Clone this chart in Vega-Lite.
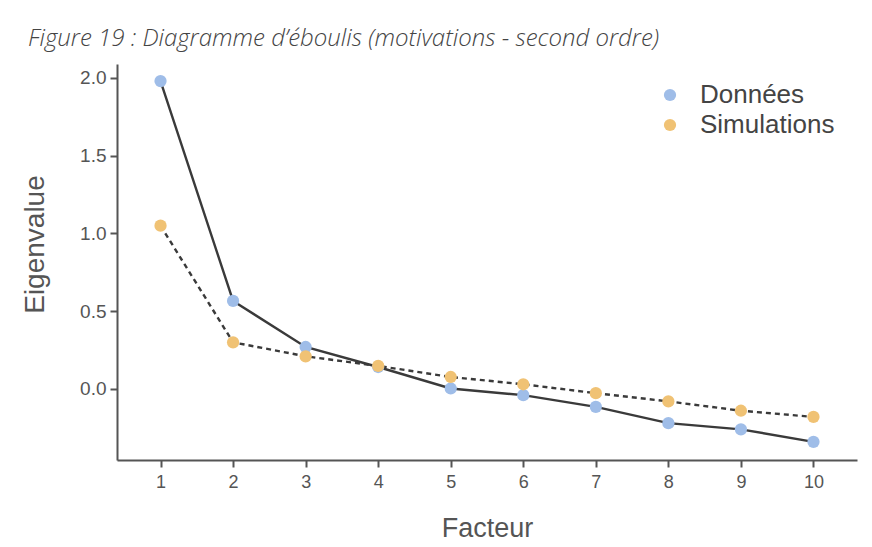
{
  "$schema": "https://vega.github.io/schema/vega-lite/v6.json",
  "autosize": {"type": "none"},
  "width": 740,
  "height": 396,
  "padding": {"left": 117, "top": 64, "right": 15, "bottom": 87},
  "background": "white",
  "title": {
    "text": "Figure 19 : Diagramme d’éboulis (motivations - second ordre)",
    "anchor": "start",
    "frame": "group",
    "font": "Open Sans",
    "fontStyle": "italic",
    "fontWeight": 300,
    "fontSize": 24,
    "color": "#444444",
    "dx": -89,
    "offset": 13
  },
  "data": {
    "values": [
      {"Facteur": 1, "Eigenvalue": 1.98, "Série": "Données"},
      {"Facteur": 2, "Eigenvalue": 0.566, "Série": "Données"},
      {"Facteur": 3, "Eigenvalue": 0.27, "Série": "Données"},
      {"Facteur": 4, "Eigenvalue": 0.141, "Série": "Données"},
      {"Facteur": 5, "Eigenvalue": 0.003, "Série": "Données"},
      {"Facteur": 6, "Eigenvalue": -0.04, "Série": "Données"},
      {"Facteur": 7, "Eigenvalue": -0.115, "Série": "Données"},
      {"Facteur": 8, "Eigenvalue": -0.22, "Série": "Données"},
      {"Facteur": 9, "Eigenvalue": -0.26, "Série": "Données"},
      {"Facteur": 10, "Eigenvalue": -0.34, "Série": "Données"},
      {"Facteur": 1, "Eigenvalue": 1.05, "Série": "Simulations"},
      {"Facteur": 2, "Eigenvalue": 0.30, "Série": "Simulations"},
      {"Facteur": 3, "Eigenvalue": 0.21, "Série": "Simulations"},
      {"Facteur": 4, "Eigenvalue": 0.148, "Série": "Simulations"},
      {"Facteur": 5, "Eigenvalue": 0.077, "Série": "Simulations"},
      {"Facteur": 6, "Eigenvalue": 0.03, "Série": "Simulations"},
      {"Facteur": 7, "Eigenvalue": -0.027, "Série": "Simulations"},
      {"Facteur": 8, "Eigenvalue": -0.08, "Série": "Simulations"},
      {"Facteur": 9, "Eigenvalue": -0.14, "Série": "Simulations"},
      {"Facteur": 10, "Eigenvalue": -0.18, "Série": "Simulations"}
    ]
  },
  "encoding": {
    "x": {
      "field": "Facteur",
      "type": "quantitative",
      "scale": {"domain": [0.4, 10.6], "nice": false, "zero": false},
      "axis": {
        "values": [1, 2, 3, 4, 5, 6, 7, 8, 9, 10],
        "grid": false,
        "title": "Facteur",
        "titleFontSize": 27,
        "titlePadding": 24,
        "labelFontSize": 18,
        "labelPadding": 6
      }
    },
    "y": {
      "field": "Eigenvalue",
      "type": "quantitative",
      "scale": {"domain": [-0.457, 2.09], "nice": false, "zero": false},
      "axis": {
        "values": [0, 0.5, 1, 1.5, 2],
        "format": ".1f",
        "grid": false,
        "title": "Eigenvalue",
        "titleFontSize": 28,
        "titleX": -68,
        "titleY": 180,
        "labelFontSize": 19,
        "labelPadding": 4
      }
    }
  },
  "layer": [
    {
      "transform": [{"filter": "datum['Série'] === 'Données'"}],
      "mark": {"type": "line", "color": "#3a3a3a", "strokeWidth": 2.4},
      "encoding": {}
    },
    {
      "transform": [{"filter": "datum['Série'] === 'Simulations'"}],
      "mark": {"type": "line", "color": "#3a3a3a", "strokeWidth": 2.4, "strokeDash": [5, 4]},
      "encoding": {}
    },
    {
      "mark": {"type": "point", "filled": true, "opacity": 1, "size": 150},
      "encoding": {
        "color": {
          "field": "Série",
          "type": "nominal",
          "scale": {"domain": ["Données", "Simulations"], "range": ["#9fbde8", "#f0c274"]},
          "legend": {
            "title": null,
            "orient": "none",
            "legendX": 540,
            "legendY": 18,
            "symbolType": "circle",
            "symbolSize": 150,
            "symbolOpacity": 1,
            "labelFontSize": 26,
            "labelColor": "#444444",
            "labelOffset": 17,
            "rowPadding": 4
          }
        }
      }
    }
  ],
  "config": {
    "font": "Liberation Sans",
    "view": {"stroke": null},
    "axis": {
      "domainColor": "#555555",
      "domainWidth": 2,
      "tickColor": "#555555",
      "tickWidth": 2,
      "tickSize": 7,
      "labelColor": "#555555",
      "titleColor": "#555555",
      "titleFontWeight": "normal",
      "labelFont": "Liberation Sans",
      "titleFont": "Liberation Sans"
    },
    "legend": {"labelFont": "Liberation Sans"}
  }
}
